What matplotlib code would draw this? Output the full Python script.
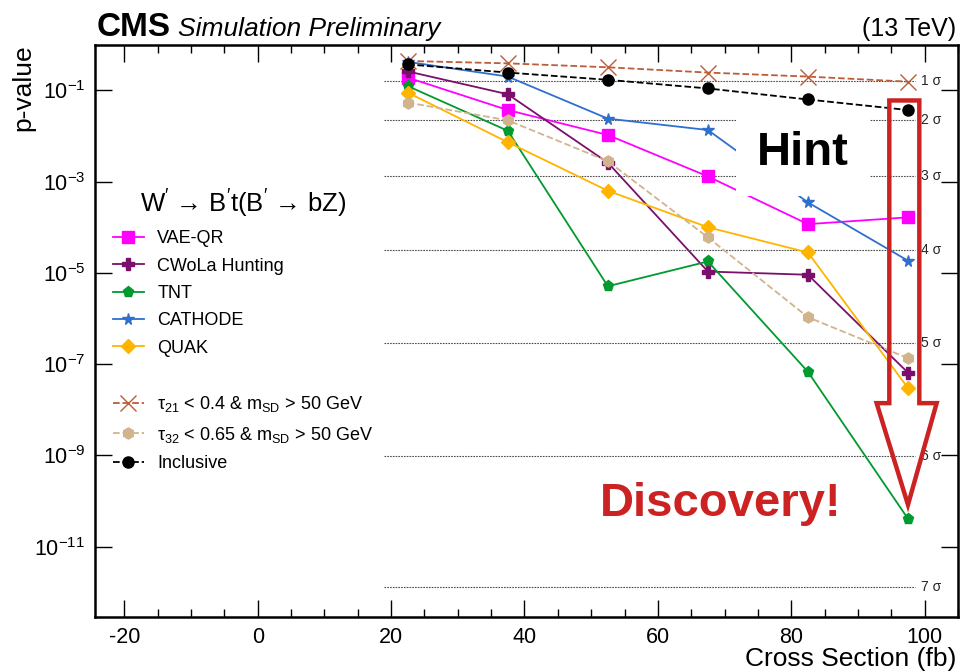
import math
import numpy as np
import matplotlib
matplotlib.use("Agg")
import matplotlib.pyplot as plt
from matplotlib.lines import Line2D
from matplotlib.patches import Polygon
from matplotlib.ticker import FixedLocator, MultipleLocator, NullLocator, FuncFormatter

plt.rcParams["font.family"] = ["Liberation Sans", "DejaVu Sans"]
plt.rcParams["mathtext.fontset"] = "custom"
plt.rcParams["mathtext.rm"] = "Liberation Sans"
plt.rcParams["mathtext.it"] = "Liberation Sans:italic"
plt.rcParams["mathtext.bf"] = "Liberation Sans:bold"
plt.rcParams["axes.unicode_minus"] = False

# injected signal cross sections (fb)
xsec = [22.5, 37.5, 52.5, 67.5, 82.5, 97.5]

# p-values per method
vae_qr = [0.19, 0.037, 0.0105, 1.3e-3, 1.17e-4, 1.65e-4]
cwola = [0.26, 0.082, 2.6e-3, 1.07e-5, 9.1e-6, 6.5e-8]
tnt = [0.124, 0.013, 5.1e-6, 1.78e-5, 6.8e-8, 4.1e-11]
cathode = [0.42, 0.2, 0.024, 0.0135, 3.5e-4, 1.85e-5]
quak = [0.089, 7.3e-3, 6.3e-4, 1.0e-4, 2.8e-5, 3.0e-8]

# cut-based references
tau21 = [0.44, 0.39, 0.32, 0.245, 0.2, 0.155]
tau32 = [0.054, 0.022, 2.8e-3, 6.0e-5, 1.07e-6, 1.35e-7]
inclusive = [0.37, 0.245, 0.17, 0.11, 0.063, 0.037]

sigmas = [1, 2, 3, 4, 5, 6, 7]
ytick_exp = [-11, -9, -7, -5, -3, -1]
xticks = [-20, 0, 20, 40, 60, 80, 100]

# big hollow arrow (x in fb, y in p-value)
arrow_x = [94.7, 99.2, 99.2, 101.8, 97.5, 92.8, 94.7]
arrow_y = [0.06, 0.06, 1.4e-8, 1.4e-8, 8.3e-11, 1.4e-8, 1.4e-8]

red = "#cc2222"

fig = plt.figure(figsize=(9.6, 6.72), dpi=100)
ax = fig.add_axes([95 / 960, 55 / 672, 863 / 960, 572.3 / 672])

ax.set_yscale("log")
ax.set_xlim(-24.4, 105)
ax.set_ylim(10 ** -12.54, 1.0)

# significance reference lines
for s in sigmas:
    p = 0.5 * math.erfc(s / math.sqrt(2))
    ax.hlines(p, 19.0, 98.5, colors="0.3", linestyles=(0, (1.5, 1.0)), lw=0.8, zorder=1)
    ax.text(99.4, p, f"{s} σ", fontsize=10, color="0.15", va="center", ha="left", zorder=1)

methods = [
    ("VAE-QR", vae_qr, "#ff00ff", "s", 8),
    ("CWoLa Hunting", cwola, "#7a0f6c", "P", 8.5),
    ("TNT", tnt, "#009a2e", "p", 8),
    ("CATHODE", cathode, "#2f6fce", "*", 8.5),
    ("QUAK", quak, "#ffb400", "D", 7.5),
]
handles = []
for name, vals, col, mk, ms in methods:
    (h,) = ax.plot(xsec, vals, color=col, marker=mk, ms=ms, lw=1.3, label=name, zorder=3)
    handles.append(h)

handles.append(Line2D([], [], color="none", label=" "))

(h21,) = ax.plot(xsec, tau21, color="#bc5d3a", ls="--", marker="x", ms=11, mew=1.0, lw=1.3,
                 label=r"τ$_{21}$ < 0.4 & m$_{\rm SD}$ > 50 GeV", zorder=3)
(h32,) = ax.plot(xsec, tau32, color="#d2b48c", ls="--", marker="h", ms=8, lw=1.3,
                 label=r"τ$_{32}$ < 0.65 & m$_{\rm SD}$ > 50 GeV", zorder=3)
(hinc,) = ax.plot(xsec, inclusive, color="black", ls="--", marker="o", ms=8, lw=1.3,
                  label="Inclusive", zorder=3)
handles += [h21, h32, hinc]

ax.add_patch(Polygon(np.column_stack([arrow_x, arrow_y]), closed=True, fill=False,
                     edgecolor=red, lw=3.2, joinstyle="miter", zorder=4))

ax.text(81.8, 4.3e-3, "Hint", fontsize=34, fontweight="bold", ha="center", va="center",
        bbox=dict(boxstyle="square,pad=0.45", fc="white", ec="none"), zorder=3.5)
ax.text(69.4, 8.7e-11, "Discovery!", fontsize=34, fontweight="bold", color=red,
        ha="center", va="center", zorder=5)

leg = ax.legend(handles=handles, loc="upper left", bbox_to_anchor=(0.002, 0.778),
                frameon=False, fontsize=13, title=r"W$^{\prime}$ → B$^{\prime}$t(B$^{\prime}$ → bZ)",
                title_fontsize=18.5, handlelength=1.7, handletextpad=0.75, labelspacing=0.57)

# axes cosmetics
ax.xaxis.set_major_locator(FixedLocator(xticks))
ax.xaxis.set_minor_locator(MultipleLocator(5))
ax.yaxis.set_major_locator(FixedLocator([10.0 ** e for e in ytick_exp]))
ax.yaxis.set_minor_locator(NullLocator())
ax.yaxis.set_major_formatter(FuncFormatter(lambda v, pos: r"$10^{%d}$" % round(math.log10(v))))
ax.tick_params(which="both", direction="in", top=True, right=True, width=1.0, labelsize=15.5)
ax.tick_params(which="major", length=12, pad=7)
ax.tick_params(which="minor", length=6)
for sp in ax.spines.values():
    sp.set_linewidth(1.8)

ax.set_ylabel("p-value", fontsize=19, loc="top", labelpad=-1)
fig.text(956 / 960, 1 - 666 / 672, "Cross Section (fb)", fontsize=19, ha="right", va="baseline")

fig.text(97 / 960, 1 - 36 / 672, "CMS", fontsize=24, fontweight="bold", va="baseline")
fig.text(178 / 960, 1 - 36 / 672, "Simulation Preliminary", fontsize=19, style="italic", va="baseline")
fig.text(956 / 960, 1 - 36 / 672, "(13 TeV)", fontsize=18, ha="right", va="baseline")

fig.savefig("out.png", dpi=100)
